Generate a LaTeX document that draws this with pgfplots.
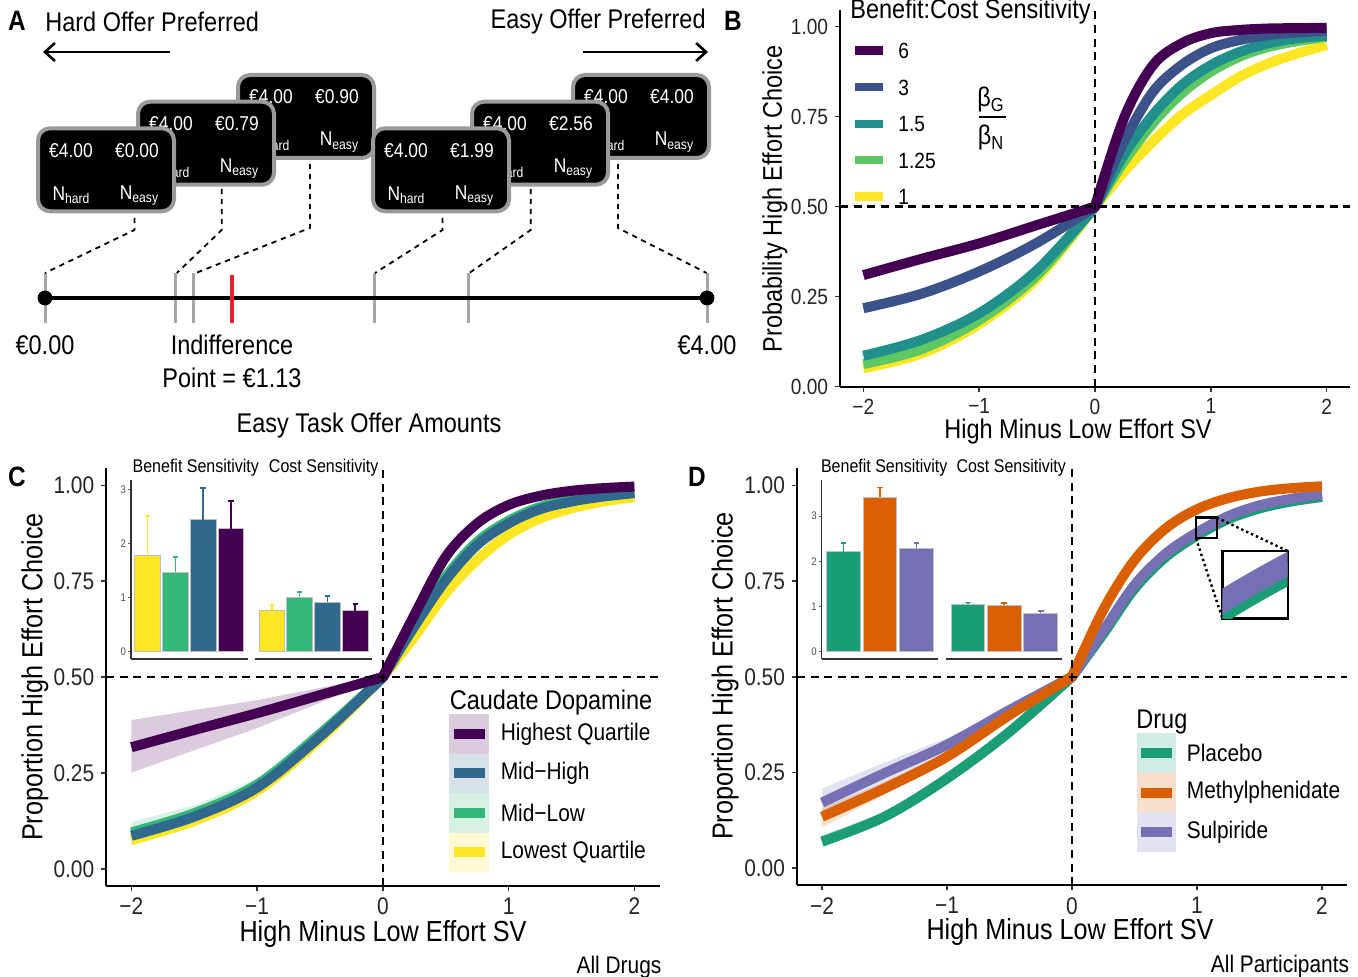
\documentclass[border=0pt]{standalone}
\usepackage{fontspec}
\setmainfont{Liberation Sans}[FakeStretch=0.87]
\usepackage{pgfplots}
\pgfplotsset{compat=1.18}
\usetikzlibrary{arrows.meta}

\definecolor{vPur}{HTML}{440154}
\definecolor{vBlu}{HTML}{3B528B}
\definecolor{vTea}{HTML}{21908C}
\definecolor{vGrn}{HTML}{5DC863}
\definecolor{vYel}{HTML}{FDE725}
\definecolor{cBlu}{HTML}{31688E}
\definecolor{cGrn}{HTML}{35B779}
\definecolor{dGrn}{HTML}{1B9E77}
\definecolor{dOrg}{HTML}{D95F02}
\definecolor{dPur}{HTML}{7570B3}
\definecolor{cardgray}{HTML}{9A9A9A}
\definecolor{tickred}{HTML}{E0232B}

\newcommand{\fXL}{\fontsize{14.5}{17}\selectfont}
\newcommand{\fL}{\fontsize{13.5}{16}\selectfont}
\newcommand{\fM}{\fontsize{12}{14}\selectfont}
\newcommand{\fB}{\fontsize{11}{13}\selectfont}
\newcommand{\fS}{\fontsize{9.2}{11}\selectfont}
\newcommand{\fC}{\fontsize{10}{12}\selectfont}
\newcommand{\fXS}{\fontsize{5.5}{6.5}\selectfont}

\pgfplotsset{
 mainax/.style={scale only axis, anchor=south west, xmin=-2.2, xmax=2.2,
   axis x line*=bottom, axis y line*=left,
   axis line style={-, line width=1pt, black},
   xtick={-2,-1,0,1,2}, xticklabels={−2,−1,0,1,2},
   ytick={0,0.25,0.5,0.75,1}, yticklabels={0.00,0.25,0.50,0.75,1.00},
   tick align=outside, major tick length=2.5pt,
   tick style={black!80, line width=0.8pt},
   tick label style={black!85},
   clip=false, /pgf/number format/assume math mode=true},
 crv/.style={line width=5pt, smooth, tension=0.55, line cap=butt, line join=round, no markers},
 jn/.style={line width=5pt, line cap=butt, line join=round, no markers},
 refl/.style={black, line width=1.2pt, dash pattern=on 4pt off 2.8pt, no markers},
 rib/.style={fill=#1, fill opacity=0.2, draw=none, no markers},
 inset/.style={scale only axis, anchor=south west, height=89.5pt,
   axis x line*=bottom, axis y line*=left,
   axis line style={-, line width=0.6pt, black!80},
   xtick=\empty, ytick={0,1,2,3}, tick align=outside, major tick length=1.5pt,
   tick style={line width=0.5pt, black!60},
   yticklabel style={font=\fXS, text=black!70, inner sep=0.8pt},
   clip=false, /pgf/number format/assume math mode=true},
 ibar/.style={ybar, bar width=0.92, bar shift=0pt, fill=#1, draw=white!75!black, line width=0.4pt},
 eb/.style={draw=#1, line width=0.8pt, line cap=butt, no markers, forget plot}
}

% one fitted curve: colour, negative half, positive half, short piece across the corner at 0
\newcommand{\fitcurve}[4]{%
 \addplot[crv, #1] coordinates {#2};
 \addplot[crv, #1] coordinates {#3};
 \addplot[jn, #1] coordinates {#4};}
% bar with upper error bar: colour, x, value, upper end, cap left, cap right
\newcommand{\ebar}[6]{%
 \addplot[ibar=#1] coordinates {(#2,#3)};
 \addplot[eb=#1] coordinates {(#2,#3) (#2,#4)};
 \addplot[eb=#1] coordinates {(#5,#4) (#6,#4)};}

\newcommand{\card}[4]{%
 \begin{scope}[shift={(#1,#2)}]
 \draw[fill=black, draw=cardgray, line width=2pt, rounded corners=6pt] (0,0) rectangle (136,83);
 \node[text=white, font=\fC, inner sep=0pt] at (33,22) {#3};
 \node[text=white, font=\fC, inner sep=0pt] at (99,22) {#4};
 \node[text=white, font=\fC, inner sep=0pt] at (33,67) {N\raisebox{-0.3ex}{\fontsize{7}{8}\selectfont hard}};
 \node[text=white, font=\fC, inner sep=0pt] at (101,67) {N\raisebox{-0.3ex}{\fontsize{7}{8}\selectfont easy}};
 \end{scope}}

\begin{document}
\begin{tikzpicture}
\path[use as bounding box] (0,0) rectangle (679pt,-488.5pt);

% ---------- Panel A number line ----------
\begin{axis}[at={(22.5pt,-161.5pt)}, anchor=south west, scale only axis, width=331pt, height=25pt,
  xmin=0, xmax=4, ymin=0, ymax=1, hide axis, clip=false]
\addplot[ycomb, draw=gray!70, line width=1.5pt, no markers] coordinates {(0,1) (0.79,1) (0.90,1) (1.99,1) (2.56,1) (4,1)};
\addplot[black, line width=2pt, no markers] coordinates {(0,0.5) (4,0.5)};
\addplot[only marks, mark=*, mark size=3.5pt, black] coordinates {(0,0.5) (4,0.5)};
\addplot[ycomb, draw=tickred, line width=2pt, no markers] coordinates {(1.13,0.96)};
\end{axis}

% ---------- Panel B ----------
\begin{axis}[mainax, at={(420.1pt,-193.35pt)}, width=254.8pt, height=188.1pt, ymin=0, ymax=1.045,
  tick label style={font=\fB}]
\fitcurve{vYel}{(-2,0.051) (-1.5,0.092) (-1,0.174) (-0.5,0.301) (0,0.5)}
 {(0,0.5) (0.25,0.597) (0.5,0.681) (0.75,0.755) (1,0.81) (1.25,0.861) (1.5,0.898) (1.75,0.926) (2,0.949)}
 {(-0.1,0.46) (0,0.5) (0.1,0.539)}
\fitcurve{vGrn}{(-2,0.063) (-1.5,0.104) (-1,0.185) (-0.5,0.31) (0,0.5)}
 {(0,0.5) (0.25,0.625) (0.5,0.732) (0.75,0.815) (1,0.875) (1.25,0.917) (1.5,0.944) (1.75,0.96) (2,0.972)}
 {(-0.1,0.461) (0,0.5) (0.1,0.55)}
\fitcurve{vTea}{(-2,0.086) (-1.5,0.13) (-1,0.204) (-0.5,0.324) (0,0.5)}
 {(0,0.5) (0.25,0.644) (0.5,0.755) (0.75,0.838) (1,0.893) (1.25,0.93) (1.5,0.954) (1.75,0.968) (2,0.975)}
 {(-0.1,0.462) (0,0.5) (0.1,0.56)}
\fitcurve{vBlu}{(-2,0.218) (-1.5,0.258) (-1,0.32) (-0.5,0.40) (0,0.5)}
 {(0,0.5) (0.25,0.681) (0.5,0.819) (0.75,0.894) (1,0.94) (1.25,0.963) (1.5,0.977) (1.75,0.984) (2,0.988)}
 {(-0.1,0.479) (0,0.5) (0.1,0.574)}
\fitcurve{vPur}{(-2,0.31) (-1.5,0.355) (-1,0.398) (-0.5,0.449) (0,0.5)}
 {(0,0.5) (0.25,0.746) (0.5,0.893) (0.75,0.954) (1,0.982) (1.25,0.991) (1.5,0.995) (1.75,0.996) (2,0.997)}
 {(-0.1,0.49) (0,0.5) (0.1,0.6)}
\addplot[refl] coordinates {(-2.2,0.5) (2.2,0.5)};
\addplot[refl] coordinates {(0,0) (0,1.045)};
\end{axis}

% ---------- Panel C ----------
\begin{axis}[mainax, at={(53.125pt,-443pt)}, width=276.65pt, height=208.9pt, ymin=-0.045, ymax=1.045,
  tick label style={font=\fM}]
\addplot[rib=vPur] coordinates {(-2,0.388) (-1.5,0.414) (-1,0.44) (-0.5,0.472) (0,0.5) (-0.5,0.433) (-1,0.367) (-1.5,0.309) (-2,0.251)};
\addplot[rib=cBlu] coordinates {(-2,0.108) (-1.5,0.153) (-1,0.225) (-0.5,0.352) (0,0.5) (-0.5,0.338) (-1,0.199) (-1.5,0.119) (-2,0.064)};
\addplot[rib=cGrn] coordinates {(-2,0.122) (-1.5,0.165) (-1,0.235) (-0.5,0.36) (0,0.5) (-0.5,0.344) (-1,0.205) (-1.5,0.125) (-2,0.068)};
\addplot[rib=vYel] coordinates {(-2,0.09) (-1.5,0.137) (-1,0.212) (-0.5,0.343) (0,0.5) (-0.5,0.333) (-1,0.194) (-1.5,0.113) (-2,0.06)};
\fitcurve{vYel}{(-2,0.075) (-1.5,0.125) (-1,0.203) (-0.5,0.338) (0,0.5)}
 {(0,0.5) (0.25,0.605) (0.5,0.719) (0.75,0.806) (1,0.871) (1.25,0.914) (1.5,0.94) (1.75,0.958) (2,0.969)}
 {(-0.1,0.467) (0,0.5) (0.1,0.542)}
\fitcurve{cGrn}{(-2,0.095) (-1.5,0.145) (-1,0.22) (-0.5,0.352) (0,0.5)}
 {(0,0.5) (0.25,0.64) (0.5,0.762) (0.75,0.853) (1,0.908) (1.25,0.944) (1.5,0.963) (1.75,0.975) (2,0.983)}
 {(-0.1,0.469) (0,0.5) (0.1,0.556)}
\fitcurve{cBlu}{(-2,0.086) (-1.5,0.136) (-1,0.212) (-0.5,0.345) (0,0.5)}
 {(0,0.5) (0.25,0.632) (0.5,0.753) (0.75,0.845) (1,0.901) (1.25,0.938) (1.5,0.958) (1.75,0.971) (2,0.98)}
 {(-0.1,0.468) (0,0.5) (0.1,0.553)}
\fitcurve{vPur}{(-2,0.317) (-1.5,0.362) (-1,0.406) (-0.5,0.453) (0,0.5)}
 {(0,0.5) (0.25,0.662) (0.5,0.814) (0.75,0.901) (1,0.949) (1.25,0.973) (1.5,0.986) (1.75,0.993) (2,0.997)}
 {(-0.1,0.491) (0,0.5) (0.1,0.565)}
\addplot[refl] coordinates {(-2.2,0.5) (2.2,0.5)};
\addplot[refl] coordinates {(0,-0.045) (0,1.045)};
\end{axis}

% C inset: benefit
\begin{axis}[inset, at={(65.5pt,-329.5pt)}, width=58.35pt, xmin=0.4, xmax=4.6, ymin=-0.135, ymax=3.185]
\ebar{vYel}{1}{1.79}{2.52}{0.9}{1.1}
\ebar{cGrn}{2}{1.47}{1.76}{1.9}{2.1}
\ebar{cBlu}{3}{2.45}{3.04}{2.9}{3.1}
\ebar{vPur}{4}{2.285}{2.80}{3.9}{4.1}
\end{axis}
% C inset: cost
\begin{axis}[inset, axis y line=none, ytick=\empty, at={(127.5pt,-329.5pt)}, width=58.5pt, xmin=0.4, xmax=4.6, ymin=-0.135, ymax=3.185]
\ebar{vYel}{1}{0.772}{0.877}{0.9}{1.1}
\ebar{cGrn}{2}{1.007}{1.107}{1.9}{2.1}
\ebar{cBlu}{3}{0.915}{1.035}{2.9}{3.1}
\ebar{vPur}{4}{0.76}{0.88}{3.9}{4.1}
\end{axis}

% ---------- Panel D ----------
\begin{axis}[mainax, at={(398.5pt,-442.6pt)}, width=275pt, height=208.45pt, ymin=-0.045, ymax=1.045,
  tick label style={font=\fM}]
\addplot[rib=dPur] coordinates {(-2,0.208) (-1.5,0.276) (-1,0.34) (-0.5,0.421) (0,0.5) (-0.5,0.405) (-1,0.304) (-1.5,0.22) (-2,0.134)};
\addplot[rib=dOrg] coordinates {(-2,0.156) (-1.5,0.225) (-1,0.302) (-0.5,0.405) (0,0.5) (-0.5,0.395) (-1,0.28) (-1.5,0.191) (-2,0.106)};
\addplot[rib=dGrn] coordinates {(-2,0.086) (-1.5,0.146) (-1,0.242) (-0.5,0.36) (0,0.5) (-0.5,0.352) (-1,0.226) (-1.5,0.122) (-2,0.053)};
\fitcurve{dGrn}{(-2,0.069) (-1.5,0.134) (-1,0.234) (-0.5,0.356) (0,0.5)}
 {(0,0.5) (0.25,0.612) (0.5,0.73) (0.75,0.813) (1,0.869) (1.25,0.912) (1.5,0.94) (1.75,0.958) (2,0.97)}
 {(-0.1,0.471) (0,0.5) (0.1,0.545)}
\fitcurve{dPur}{(-2,0.171) (-1.5,0.248) (-1,0.322) (-0.5,0.413) (0,0.5)}
 {(0,0.5) (0.25,0.62) (0.5,0.74) (0.75,0.822) (1,0.877) (1.25,0.92) (1.5,0.948) (1.75,0.965) (2,0.977)}
 {(-0.1,0.483) (0,0.5) (0.1,0.548)}
\fitcurve{dOrg}{(-2,0.134) (-1.5,0.208) (-1,0.291) (-0.5,0.40) (0,0.5)}
 {(0,0.5) (0.25,0.675) (0.5,0.805) (0.75,0.888) (1,0.938) (1.25,0.967) (1.5,0.984) (1.75,0.993) (2,0.998)}
 {(-0.1,0.48) (0,0.5) (0.1,0.57)}
\addplot[refl] coordinates {(-2.2,0.5) (2.2,0.5)};
\addplot[refl] coordinates {(0,-0.045) (0,1.045)};
\draw[black, line width=1.2pt] (axis cs:0.992,0.862) rectangle (axis cs:1.158,0.916);
\draw[black, line width=1.2pt, dash pattern=on 1.2pt off 1.5pt] (axis cs:1.158,0.916) -- (axis cs:1.7256,0.8288);
\draw[black, line width=1.2pt, dash pattern=on 1.2pt off 1.5pt] (axis cs:0.992,0.862) -- (axis cs:1.2024,0.6528);
\end{axis}

% D magnifier
\begin{axis}[at={(611.15pt,-309.15pt)}, anchor=south west, scale only axis, width=32.7pt, height=33.65pt,
  xmin=0.992, xmax=1.158, ymin=0.862, ymax=0.916, xtick=\empty, ytick=\empty,
  axis line style={line width=1.2pt, black}, axis background/.style={fill=white}]
\addplot[dGrn, line width=11pt, smooth, no markers] coordinates {(0.75,0.813) (1,0.869) (1.25,0.912) (1.5,0.94)};
\addplot[dPur, line width=11pt, smooth, no markers] coordinates {(0.75,0.822) (1,0.877) (1.25,0.92) (1.5,0.948)};
\end{axis}

% D inset: benefit
\begin{axis}[inset, at={(410.85pt,-329.5pt)}, width=58.3pt, xmin=0.4, xmax=3.6, ymin=-0.161, ymax=3.796]
\ebar{dGrn}{1}{2.21}{2.40}{0.92}{1.08}
\ebar{dOrg}{2}{3.41}{3.63}{1.92}{2.08}
\ebar{dPur}{3}{2.29}{2.40}{2.92}{3.08}
\end{axis}
% D inset: cost
\begin{axis}[inset, axis y line=none, ytick=\empty, at={(473pt,-329.5pt)}, width=58.2pt, xmin=0.4, xmax=3.6, ymin=-0.161, ymax=3.796]
\ebar{dGrn}{1}{1.055}{1.09}{0.92}{1.08}
\ebar{dOrg}{2}{1.033}{1.077}{1.92}{2.08}
\ebar{dPur}{3}{0.85}{0.90}{2.92}{3.08}
\end{axis}

% ---------- decorations in pixel units ----------
\begin{scope}[x=0.5pt, y=-0.5pt]
\node[font=\fontsize{14}{16}\selectfont\bfseries, inner sep=0pt] at (17,21) {A};
\node[font=\fontsize{14}{16}\selectfont\bfseries, inner sep=0pt] at (733,21) {B};
\node[font=\fontsize{14}{16}\selectfont\bfseries, inner sep=0pt] at (17,477) {C};
\node[font=\fontsize{14}{16}\selectfont\bfseries, inner sep=0pt] at (697,477) {D};

% Panel A
\node[font=\fL, anchor=west, inner sep=0pt] at (45,22) {Hard Offer Preferred};
\node[font=\fL, anchor=east, inner sep=0pt] at (706,22) {Easy Offer Preferred};
\draw[line width=1.3pt, -{Straight Barb[length=5pt, width=9pt, line width=1.3pt]}] (170,52) -- (43,52);
\draw[line width=1.3pt, -{Straight Barb[length=5pt, width=9pt, line width=1.3pt]}] (583,52) -- (708,52);
\card{238}{75}{€4.00}{€0.90}
\card{138}{101.7}{€4.00}{€0.79}
\card{38}{128.3}{€4.00}{€0.00}
\card{573}{75}{€4.00}{€4.00}
\card{472}{101.7}{€4.00}{€2.56}
\card{373}{128.3}{€4.00}{€1.99}
\begin{scope}[line width=0.9pt, dash pattern=on 2.6pt off 2.4pt]
\draw (134.4,218) -- (134.4,230) -- (45,273);
\draw (221.7,189) -- (221.7,230) -- (176.9,273);
\draw (309.9,164) -- (309.9,228) -- (195.8,273);
\draw (442.5,218) -- (442.5,230) -- (375,273);
\draw (530.7,189) -- (530.7,230) -- (469.3,273);
\draw (618,164) -- (618,228) -- (706.6,273);
\end{scope}
\node[font=\fL, inner sep=0pt] at (45,345) {€0.00};
\node[font=\fL, inner sep=0pt] at (232,345) {Indifference};
\node[font=\fL, inner sep=0pt] at (232,378) {Point = €1.13};
\node[font=\fL, inner sep=0pt] at (707,345) {€4.00};
\node[font=\fL, inner sep=0pt] at (369,426) {Easy Task Offer Amounts};

% Panel B labels and legend
\node[font=\fL, inner sep=0pt] at (1078,432) {High Minus Low Effort SV};
\node[font=\fL, inner sep=0pt, rotate=90] at (775,199) {Probability High Effort Choice};
\node[font=\fL, anchor=west, inner sep=0pt] at (850,12) {Benefit:Cost Sensitivity};
\fill[vPur] (855,46.5) rectangle (883,55);
\fill[vBlu] (855,83.1) rectangle (883,91.5);
\fill[vTea] (855,119.8) rectangle (883,128.2);
\fill[vGrn] (855,156.1) rectangle (883,164.5);
\fill[vYel] (855,192.5) rectangle (883,200.9);
\node[font=\fB, anchor=west, inner sep=0pt] at (898,51) {6};
\node[font=\fB, anchor=west, inner sep=0pt] at (898,87.5) {3};
\node[font=\fB, anchor=west, inner sep=0pt] at (898,124) {1.5};
\node[font=\fB, anchor=west, inner sep=0pt] at (898,160.5) {1.25};
\node[font=\fB, anchor=west, inner sep=0pt] at (898,197) {1};
\node[font=\fL, inner sep=0pt] at (991,100) {β\textsubscript{G}};
\draw[line width=0.8pt] (979,117) -- (1006,117);
\node[font=\fL, inner sep=0pt] at (991,138) {β\textsubscript{N}};

% Panel C labels, inset titles, legend
\node[font=\fXL, inner sep=0pt] at (383,934) {High Minus Low Effort SV};
\node[font=\fXL, inner sep=0pt, rotate=90] at (35,677) {Proportion High Effort Choice};
\node[font=\fS, inner sep=0pt] at (195.8,467.7) {Benefit Sensitivity};
\node[font=\fS, inner sep=0pt] at (323.7,467.7) {Cost Sensitivity};
\node[font=\fL, anchor=west, inner sep=0pt] at (449.4,702.3) {Caudate Dopamine};
\fill[vPur, fill opacity=0.2] (449.4,714.4) rectangle (489.2,753.7);
\fill[cBlu, fill opacity=0.2] (449.4,753.7) rectangle (489.2,793);
\fill[cGrn, fill opacity=0.2] (449.4,793) rectangle (489.2,832.6);
\fill[vYel, fill opacity=0.2] (449.4,832.6) rectangle (489.2,872.1);
\fill[vPur] (453.8,729) rectangle (484.9,739);
\fill[cBlu] (453.8,768.4) rectangle (484.9,778.4);
\fill[cGrn] (453.8,807.8) rectangle (484.9,817.8);
\fill[vYel] (453.8,847.4) rectangle (484.9,857.4);
\node[font=\fM, anchor=west, inner sep=0pt] at (500.4,734) {Highest Quartile};
\node[font=\fM, anchor=west, inner sep=0pt] at (500.4,773.4) {Mid−High};
\node[font=\fM, anchor=west, inner sep=0pt] at (500.4,812.8) {Mid−Low};
\node[font=\fM, anchor=west, inner sep=0pt] at (500.4,852.4) {Lowest Quartile};
\node[font=\fM, inner sep=0pt] at (619,967) {All Drugs};

% Panel D labels, inset titles, legend
\node[font=\fXL, inner sep=0pt] at (1070,932) {High Minus Low Effort SV};
\node[font=\fXL, inner sep=0pt, rotate=90] at (725,676) {Proportion High Effort Choice};
\node[font=\fS, inner sep=0pt] at (884.2,467.7) {Benefit Sensitivity};
\node[font=\fS, inner sep=0pt] at (1011.2,467.7) {Cost Sensitivity};
\node[font=\fL, anchor=west, inner sep=0pt] at (1136,722.3) {Drug};
\fill[dGrn, fill opacity=0.2] (1137,733.4) rectangle (1175.7,772.7);
\fill[dOrg, fill opacity=0.2] (1137,772.7) rectangle (1175.7,812.3);
\fill[dPur, fill opacity=0.2] (1137,812.3) rectangle (1175.7,851.7);
\fill[dGrn] (1141,748) rectangle (1172.2,758);
\fill[dOrg] (1141,787.5) rectangle (1172.2,797.5);
\fill[dPur] (1141,827) rectangle (1172.2,837);
\node[font=\fM, anchor=west, inner sep=0pt] at (1186.5,753) {Placebo};
\node[font=\fM, anchor=west, inner sep=0pt] at (1186.5,792.5) {Methylphenidate};
\node[font=\fM, anchor=west, inner sep=0pt] at (1186.5,832) {Sulpiride};
\node[font=\fM, inner sep=0pt] at (1280,966) {All Participants};
\end{scope}
\end{tikzpicture}
\end{document}
